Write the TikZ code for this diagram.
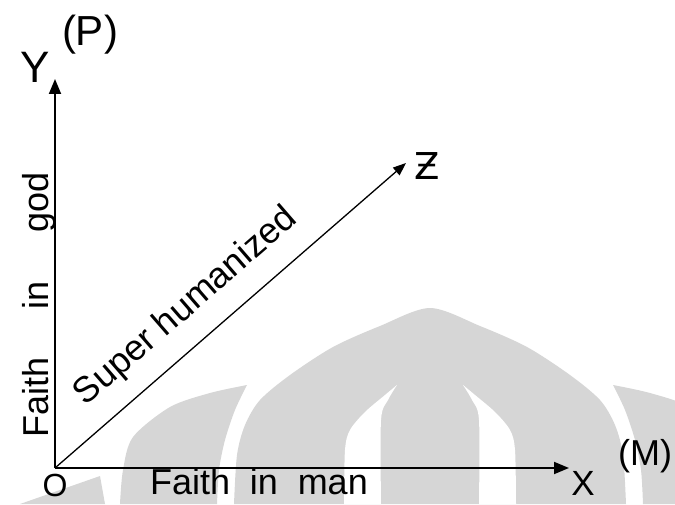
\documentclass[tikz,border=0pt]{standalone}
\usepackage{fontspec}
\setmainfont{Liberation Sans}
\newfontfamily\zfont{DejaVu Sans}
\usepackage{tikz}
\usetikzlibrary{arrows.meta}

\definecolor{wmark}{RGB}{214,214,214}
\tikzset{
  axis/.style={line width=1.8pt, -{Triangle[length=15pt,width=12pt]}},
  ray/.style={line width=1.3pt, -{Triangle[length=13pt,width=10pt]}},
  lbl/.style={inner sep=0pt, font=\fontsize{36}{40}\selectfont},
}

\begin{document}
\begin{tikzpicture}[x=1pt,y=1pt]
  \useasboundingbox (-55,-36) rectangle (620,468);
  % watermark
  \begin{scope}
    \clip (-55,-36) rectangle (620,468);
    \fill[wmark] plot[smooth] coordinates {(179,-36) (182,13) (190,43) (205,68) (235,93) (278,121) (325,142) (375,160) (425,142) (472,121) (515,93) (545,68) (560,43) (568,13) (571,-36)} -- cycle; %dome
    \fill[white] plot[smooth] coordinates {(342,83) (330,73) (310,56) (295,38) (290,18) (289,-36)} -- plot[smooth] coordinates {(326,-36) (326,48) (333,68) (342,83)} -- cycle;
    \fill[white] plot[smooth] coordinates {(408,83) (420,73) (440,56) (455,38) (460,18) (461,-36)} -- plot[smooth] coordinates {(424,-36) (424,48) (417,68) (408,83)} -- cycle;
    \fill[wmark] plot[smooth] coordinates {(192,83) (180,58) (170,28) (164,-2) (162,-36)} -- plot[smooth] coordinates {(65,-36) (68,-2) (78,31) (115,61) (155,75) (192,83)} -- cycle; %left lobe
    \fill[wmark] plot[smooth] coordinates {(558,83) (570,58) (580,28) (586,-2) (588,-36)} -- plot[smooth] coordinates {(685,-36) (682,-2) (672,31) (635,61) (595,75) (558,83)} -- cycle; %right lobe
    \fill[wmark] (45,-8) -- (50,-36) -- (-35,-36) -- cycle;
  \end{scope}

  \coordinate (O) at (0,0);
  \coordinate (Ytip) at (0,389);
  \coordinate (Xtip) at (514,0);
  \coordinate (Ztip) at (351,305);

  \draw[axis] (O) -- (Ytip); %Y axis
  \draw[axis] (O) -- (Xtip); %X axis
  \draw[ray] (O) -- (Ztip) node[lbl, pos=0.44, sloped, anchor=base, yshift=26pt] (super) {Super humanized}; %Z

  \node[lbl, anchor=base, font=\fontsize{32}{36}\selectfont] (origin) at (0,-28) {O};
  \node[lbl, anchor=base] (man) at (204,-26) {Faith\hspace{0.55em}in\hspace{0.55em}man};
  \node[lbl, anchor=base, rotate=90] (god) at (-7,163) {Faith\hspace{1.35em}in\hspace{1.35em}god};
  \node[lbl, anchor=base, font=\fontsize{44}{48}\selectfont] (ylab) at (-20,385) {Y};
  \node[lbl, anchor=base, font=\fontsize{42}{46}\selectfont] (plab) at (35,422) {(P)};
  \node[lbl, anchor=base, font=\fontsize{35}{38}\selectfont] (xlab) at (528,-27) {X};
  \node[lbl, anchor=base west] (mlab) at (563,3) {(M)};
  \node[lbl, anchor=base, font=\zfont\fontsize{37}{40}\selectfont] (zlab) at (372,288) {Ƶ};
\end{tikzpicture}
\end{document}
